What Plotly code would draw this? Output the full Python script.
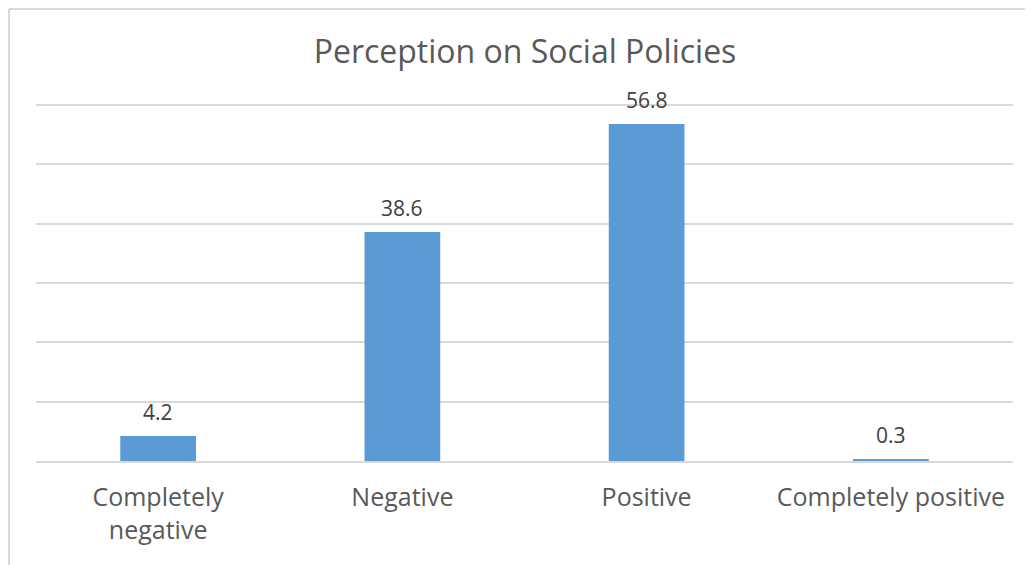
import plotly.graph_objects as go

categories = ["Completely<br>negative", "Negative", "Positive", "Completely positive"]
values = [4.2, 38.6, 56.8, 0.3]
value_labels = ["4.2", "38.6", "56.8", "0.3"]

# page body has an 8px margin; figure sized to fill the rest of the window
W, H = 1025, 557
ml, mr, mt, mb = 28, 20, 91, 104
pw = W - ml - mr
ph = H - mt - mb

fig = go.Figure(go.Bar(
    x=categories, y=values,
    marker=dict(color="#5b9bd5", line=dict(width=0)), width=0.31,
))

for c, v, t in zip(categories, values, value_labels):
    fig.add_annotation(x=c, y=v, text=t, showarrow=False, yanchor="bottom",
                       yshift=8, font=dict(family="Open Sans", size=21, color="#404040"))

fx = (1 - ml) / pw
fy_top = (H - mb - 1) / ph
fy_bot = (H - mb - H) / ph
fx_right = (W - ml) / pw
fig.add_shape(type="line", xref="paper", yref="paper", x0=fx, x1=fx, y0=fy_bot, y1=fy_top,
              line=dict(color="#d9d9d9", width=2))
fig.add_shape(type="line", xref="paper", yref="paper", x0=fx, x1=fx_right, y0=fy_top, y1=fy_top,
              line=dict(color="#d9d9d9", width=2))

fig.update_layout(
    width=W, height=H, margin=dict(l=ml, r=mr, t=mt, b=mb, autoexpand=False),
    paper_bgcolor="white", plot_bgcolor="white",
    title=dict(text="Perception on Social Policies", x=(525 - 8) / W, xanchor="center",
               y=1 - (52 - 8) / H, yanchor="middle",
               font=dict(family="Open Sans", size=32, color="#595959")),
    showlegend=False, bargap=0.69,
    xaxis=dict(showgrid=False, showline=True, linecolor="#d9d9d9", linewidth=2,
               ticks="", ticklabelstandoff=13, automargin=False,
               tickfont=dict(family="Open Sans", size=25, color="#595959")),
    yaxis=dict(range=[0, 61], tickvals=[10, 20, 30, 40, 50, 60], showgrid=True,
               gridcolor="#d9d9d9", gridwidth=1.5,
               showticklabels=False, zeroline=False, showline=False),
    font=dict(family="Open Sans"),
)

fig.write_html("out.html")
